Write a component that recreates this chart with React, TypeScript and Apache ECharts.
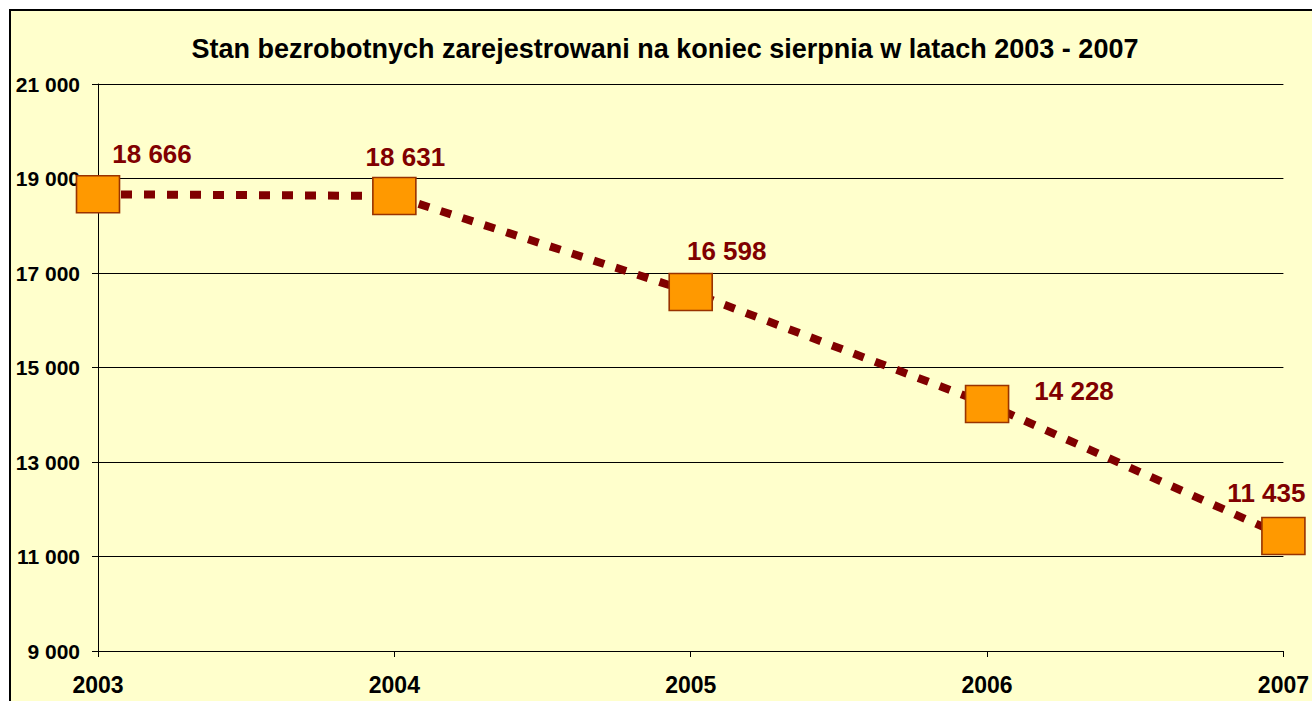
import React, { useEffect, useRef } from "react";
import * as echarts from "echarts";

const years = ["2003", "2004", "2005", "2006", "2007"];
const unemployed = [18666, 18631, 16598, 14228, 11435];
const labelOffsets: [number, number][] = [
  [54, -40],
  [11, -39],
  [36, -41],
  [87, -13],
  [-17, -43],
];
const titleText = "Stan bezrobotnych zarejestrowani na koniec sierpnia w latach 2003 - 2007";

const fmt = (v: number) => {
  const s = String(Math.round(v));
  return s.replace(/\B(?=(\d{3})+(?!\d))/g, " ");
};

export default function App() {
  const ref = useRef<HTMLDivElement>(null);
  useEffect(() => {
    if (!ref.current) return;
    const chart = echarts.init(ref.current, null, { renderer: "svg" });
    const font = "'Liberation Sans', Arial, sans-serif";
    chart.setOption({
      animation: false,
      backgroundColor: "#ffffff",
      graphic: [
        {
          type: "rect",
          z: -10,
          silent: true,
          shape: { x: 10, y: 10, width: 1400, height: 800 },
          style: { fill: "#FFFFCC", stroke: "#000000", lineWidth: 2 },
        },
      ],
      title: {
        text: titleText,
        left: 660,
        textAlign: "center",
        top: 30,
        textStyle: {
          fontFamily: font,
          fontWeight: "bold",
          fontSize: 27,
          color: "#000000",
        },
      },
      grid: { left: 98, right: 27, top: 84, bottom: 50, containLabel: false },
      xAxis: {
        type: "category",
        data: years,
        boundaryGap: false,
        axisLine: { lineStyle: { color: "#000000", width: 1 } },
        axisTick: { show: true, length: 6, lineStyle: { color: "#000000" } },
        axisLabel: {
          margin: 22,
          fontFamily: font,
          fontWeight: "bold",
          fontSize: 23,
          color: "#000000",
        },
        splitLine: { show: false },
      },
      yAxis: {
        type: "value",
        min: 9000,
        max: 21000,
        interval: 2000,
        axisLine: { show: true, lineStyle: { color: "#000000", width: 1 } },
        axisTick: { show: true, length: 6, lineStyle: { color: "#000000" } },
        axisLabel: {
          margin: 18,
          fontFamily: font,
          fontWeight: "bold",
          fontSize: 21,
          color: "#000000",
          formatter: (v: number) => fmt(v),
        },
        splitLine: { show: true, lineStyle: { color: "#000000", width: 1 } },
      },
      series: [
        {
          type: "line",
          data: unemployed.map((v, i) => ({
            value: v,
            label: { offset: labelOffsets[i] },
          })),
          symbol: "rect",
          symbolSize: [43, 37],
          lineStyle: { color: "#800000", width: 8, type: [11, 12] },
          itemStyle: { color: "#FF9900", borderColor: "#993300", borderWidth: 1.5 },
          label: {
            show: true,
            position: "inside",
            align: "center",
            verticalAlign: "middle",
            fontFamily: font,
            fontWeight: "bold",
            fontSize: 26,
            color: "#800000",
            formatter: (p: any) => fmt(p.value),
          },
        },
      ],
    });
    return () => chart.dispose();
  }, []);
  return (
    <div
      ref={ref}
      style={{ position: "fixed", left: 0, top: 0, width: 1312, height: 701 }}
    />
  );
}
